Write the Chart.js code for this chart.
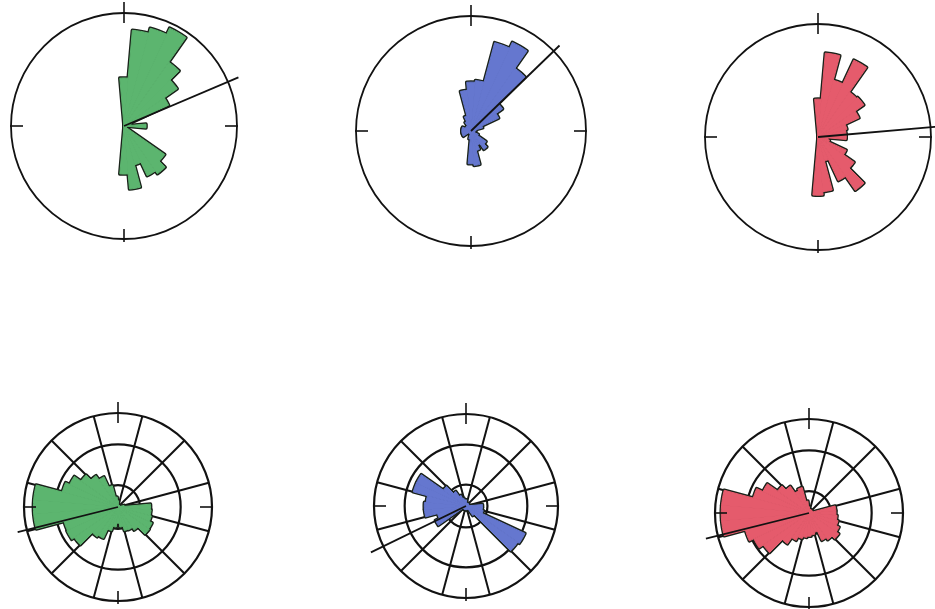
<!DOCTYPE html>
<html>
<head>
<meta charset="utf-8">
<script src="https://cdn.jsdelivr.net/npm/chart.js@4.4.1/dist/chart.umd.min.js"></script>
<style>
  html, body { margin: 0; padding: 0; background: #fff; width: 935px; height: 609px; overflow: hidden; position: relative; }
  canvas { position: absolute; }
</style>
</head>
<body>
<script>
// Direction classes, 10° wide, centred on 0°, 10°, ... 350° (bearing, clockwise from north)
const directionBins = ['0°','10°','20°','30°','40°','50°','60°','70°','80°','90°','100°','110°',
  '120°','130°','140°','150°','160°','170°','180°','190°','200°','210°','220°','230°',
  '240°','250°','260°','270°','280°','290°','300°','310°','320°','330°','340°','350°'];

// Frequencies (%) per direction class
const upperGreen = [8.5, 17.0, 17.9, 19.1, 13.8, 11.5, 8.7, 1.4, 0.9, 3.9, 0.4, 0.4,
  0.5, 8.8, 10.3, 9.7, 7.1, 11.2, 8.5, 0, 0, 0, 0, 0,
  0, 0, 0, 0, 0, 0, 0, 0, 0, 0, 0, 0];
const upperBlue = [8.5, 8.8, 15.9, 17.0, 13.3, 6.7, 5.3, 2.1, 0.9, 0.7, 0.7, 0.7,
  1.4, 3.2, 3.9, 2.7, 3.5, 6.0, 5.7, 1.4, 0.5, 0.5, 0.5, 0.5,
  1.6, 1.6, 1.6, 1.6, 1.6, 1.6, 1.1, 1.1, 1.1, 1.8, 2.7, 7.1];
const upperRed = [6.7, 14.9, 10.4, 15.0, 9.7, 9.9, 8.0, 5.3, 5.0, 5.0, 1.8, 2.1,
  5.5, 7.8, 11.5, 8.5, 4.4, 9.7, 10.3, 0, 0, 0, 0, 0,
  0, 0, 0, 0, 0, 0, 0, 0, 0, 0, 0, 0];
const lowerGreen = [1.0, 0.3, 0.3, 0.3, 0.3, 0.3, 0.3, 0.3, 1.0, 5.2, 5.3, 5.5,
  6.0, 6.1, 4.5, 4.0, 3.9, 3.2, 2.6, 3.2, 3.9, 5.5, 5.8, 8.5,
  9.0, 8.9, 13.5, 13.5, 13.5, 9.2, 8.5, 7.2, 6.1, 5.3, 3.5, 1.6];
const lowerBlue = [1.0, 0.5, 0.5, 0.5, 0.5, 0.5, 0.5, 0.5, 0.5, 2.7, 2.7, 2.9,
  10.6, 10.3, 1.9, 0.6, 0.6, 0.6, 0.6, 0.6, 0.6, 0.6, 0.6, 0.6,
  5.5, 4.8, 6.8, 6.8, 6.5, 8.9, 8.9, 4.5, 2.9, 1.9, 1.3, 1.0];
const lowerRed = [1.0, 0.6, 0.6, 0.6, 0.6, 0.6, 0.6, 0.6, 4.3, 4.3, 4.5, 4.8,
  5.3, 5.8, 5.2, 4.8, 3.2, 3.5, 3.7, 3.9, 4.2, 4.8, 6.0, 8.9,
  9.7, 10.5, 14.0, 14.0, 14.0, 9.2, 8.1, 6.1, 5.2, 3.9, 4.2, 1.9];

// Mean direction (bearing, degrees) of each rose
const meanDirections = [67, 46, 85, 256, 244, 256];

// Radial scale limits and ring values
const upperRings = [0, 20];
const lowerRings = [0, 3.5, 10, 15];

const INK = '#121212';
const OUTLINE = '#1a221a';
const PAD = 30;

const roses = [
  { data: upperGreen, mean: meanDirections[0], rings: upperRings, color: '#5cb56f', cx: 124, cy: 126, radius: 113, spokes: false, reach: 1.1, ring: 1.8 },
  { data: upperBlue,  mean: meanDirections[1], rings: upperRings, color: '#6577cf', cx: 471, cy: 131, radius: 115, spokes: false, reach: 1.07, ring: 1.8 },
  { data: upperRed,   mean: meanDirections[2], rings: upperRings, color: '#e55b6c', cx: 818, cy: 137, radius: 113, spokes: false, reach: 1.06, ring: 1.8 },
  { data: lowerGreen, mean: meanDirections[3], rings: lowerRings, color: '#5cb56f', cx: 118, cy: 507, radius: 94, spokes: true, reach: 1.1, ring: 2.2 },
  { data: lowerBlue,  mean: meanDirections[4], rings: lowerRings, color: '#6577cf', cx: 466, cy: 506, radius: 92, spokes: true, reach: 1.15, ring: 2.2 },
  { data: lowerRed,   mean: meanDirections[5], rings: lowerRings, color: '#e55b6c', cx: 809, cy: 513, radius: 94, spokes: true, reach: 1.13, ring: 2.2 }
];

// Cardinal tick marks and the mean-direction line, placed with the radial scale's geometry
function compassMarks(rose) {
  return {
    id: 'compassMarks',
    afterDatasetsDraw(chart) {
      const s = chart.scales.r;
      const cx = s.xCenter, cy = s.yCenter, R = s.drawingArea;
      const ctx = chart.ctx;
      const seg = (bearing, r0, r1, width) => {
        const a = (bearing - 90) * Math.PI / 180;
        ctx.beginPath();
        ctx.lineWidth = width;
        ctx.moveTo(cx + r0 * Math.cos(a), cy + r0 * Math.sin(a));
        ctx.lineTo(cx + r1 * Math.cos(a), cy + r1 * Math.sin(a));
        ctx.stroke();
      };
      ctx.save();
      ctx.strokeStyle = INK;
      ctx.lineCap = 'butt';
      seg(0, R - 10, R + 11, 1.6);
      seg(90, R - 12, R + 1, 1.6);
      seg(180, R - 10, R + 3, 1.6);
      seg(270, R - 12, R + 1, 1.6);
      seg(rose.mean, 0, R * rose.reach, 1.8);
      ctx.restore();
    }
  };
}

roses.forEach(rose => {
  const size = 2 * rose.radius + 2 * PAD;
  const canvas = document.createElement('canvas');
  canvas.width = size;
  canvas.height = size;
  canvas.style.width = size + 'px';
  canvas.style.height = size + 'px';
  canvas.style.left = (rose.cx - rose.radius - PAD) + 'px';
  canvas.style.top = (rose.cy - rose.radius - PAD) + 'px';
  document.body.appendChild(canvas);

  new Chart(canvas, {
    type: 'polarArea',
    data: {
      labels: directionBins,
      datasets: [
        { // petals
          data: rose.data,
          backgroundColor: rose.color,
          borderColor: rose.color,
          borderWidth: c => (c.raw > 0 ? 1 : 0)
        },
        { // dark rim behind the petals
          data: rose.data,
          backgroundColor: OUTLINE,
          borderColor: OUTLINE,
          borderJoinStyle: 'round',
          borderWidth: c => (c.raw > 0 ? 3.6 : 0)
        }
      ]
    },
    options: {
      responsive: false,
      animation: false,
      devicePixelRatio: 1,
      layout: { padding: PAD },
      plugins: { legend: { display: false }, tooltip: { enabled: false } },
      scales: {
        r: {
          min: 0,
          max: rose.rings[rose.rings.length - 1],
          startAngle: -5,
          ticks: { display: false },
          afterBuildTicks: s => { s.ticks = rose.rings.map(v => ({ value: v })); },
          grid: { circular: true, color: INK, lineWidth: rose.ring },
          angleLines: {
            display: rose.spokes,
            color: INK,
            lineWidth: c => (c.index % 3 === 2 ? 2 : 0)
          },
          pointLabels: { display: false }
        }
      }
    },
    plugins: [compassMarks(rose)]
  });
});
</script>
</body>
</html>
